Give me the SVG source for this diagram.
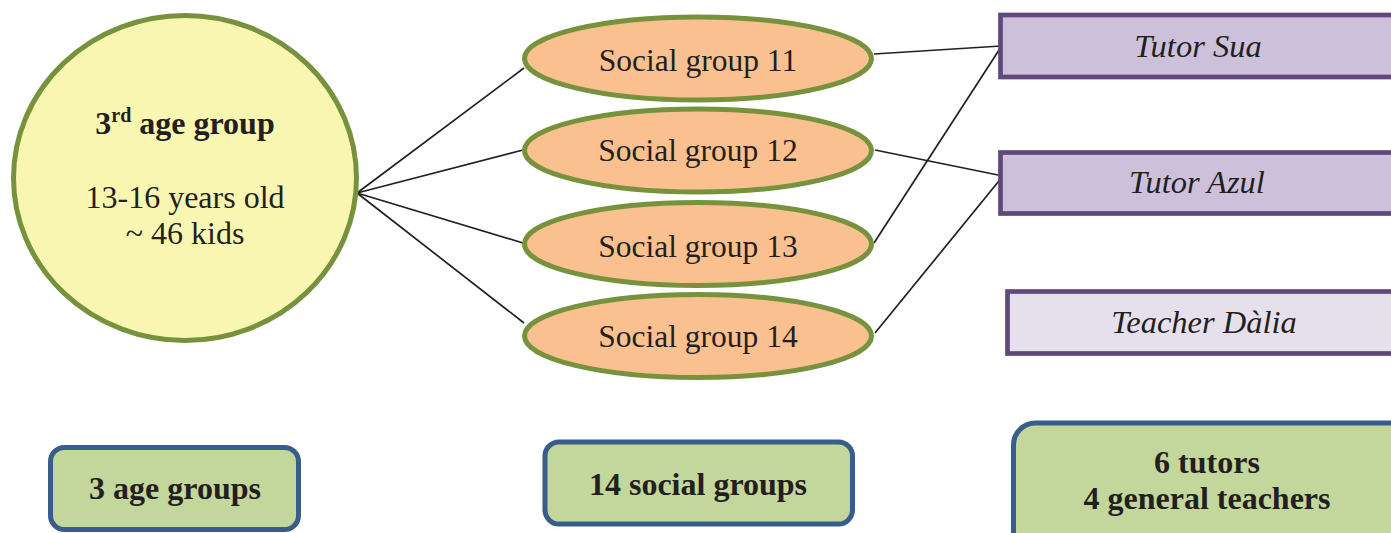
<svg xmlns="http://www.w3.org/2000/svg" width="1391" height="533" viewBox="0 0 1391 533">
<style>
text{font-family:'Liberation Serif','Times New Roman',serif;font-size:32px;fill:#231F20;text-anchor:middle}
.b{font-weight:bold}
.i{font-style:italic;font-size:32.5px}
.s{font-size:31.5px}
.soc{fill:#FAC090;stroke:#76923C;stroke-width:5}
.tut{fill:#CCC0DA;stroke:#5F497A;stroke-width:4.7}
.sum{fill:#C3D69B;stroke:#385D8A;stroke-width:5}
.c{stroke:#231F20;stroke-width:1.7;fill:none}
</style>
<rect width="1391" height="533" fill="#fff"/>
<g id="connectors">
<line class="c" x1="357" y1="193" x2="524" y2="68"/>
<line class="c" x1="357" y1="193" x2="523" y2="150"/>
<line class="c" x1="357" y1="193" x2="523" y2="243"/>
<line class="c" x1="357" y1="193" x2="524" y2="323"/>
<line class="c" x1="874" y1="54" x2="1001" y2="46"/>
<line class="c" x1="875" y1="150" x2="1003" y2="176"/>
<line class="c" x1="874" y1="243" x2="1001" y2="47"/>
<line class="c" x1="875" y1="333" x2="1003" y2="176"/>
</g>
<g id="age-group">
<ellipse cx="185" cy="178" rx="171.5" ry="162.5" fill="#F9F6B2" stroke="#76923C" stroke-width="5"/>
<text x="185" y="134" class="b">3<tspan font-size="20" dy="-12">rd</tspan><tspan dy="12"> age group</tspan></text>
<text x="185" y="208">13-16 years old</text>
<text x="185" y="244">~ 46 kids</text>
</g>
<g id="sg11"><ellipse class="soc" cx="698" cy="58.5" rx="173.5" ry="41.5"/><text class="s" x="698" y="71">Social group 11</text></g>
<g id="sg12"><ellipse class="soc" cx="698" cy="150.5" rx="173.5" ry="41.5"/><text class="s" x="698" y="161">Social group 12</text></g>
<g id="sg13"><ellipse class="soc" cx="698" cy="244" rx="173.5" ry="41.5"/><text class="s" x="698" y="257">Social group 13</text></g>
<g id="sg14"><ellipse class="soc" cx="698" cy="336" rx="173.5" ry="41.5"/><text class="s" x="698" y="347">Social group 14</text></g>
<g id="tutor-sua"><rect class="tut" x="1000.5" y="15" width="400" height="62"/><text x="1198" y="57" class="i">Tutor Sua</text></g>
<g id="tutor-azul"><rect class="tut" x="1000.5" y="152.5" width="400" height="61"/><text x="1197" y="193" class="i">Tutor Azul</text></g>
<g id="teacher-dalia"><rect class="tut" x="1007.5" y="291.5" width="400" height="62" style="fill:#E5E0EC"/><text x="1204" y="333" class="i">Teacher Dàlia</text></g>
<g id="sum-age"><rect class="sum" x="50.5" y="447.5" width="248" height="82" rx="14"/><text x="175" y="499" class="b">3 age groups</text></g>
<g id="sum-social"><rect class="sum" x="545" y="442" width="307.5" height="82" rx="14"/><text x="698" y="495" class="b">14 social groups</text></g>
<g id="sum-staff"><rect class="sum" x="1013.5" y="423" width="400" height="130" rx="22"/><text x="1207" y="473" class="b">6 tutors</text><text x="1207" y="509" class="b">4 general teachers</text></g>
</svg>
